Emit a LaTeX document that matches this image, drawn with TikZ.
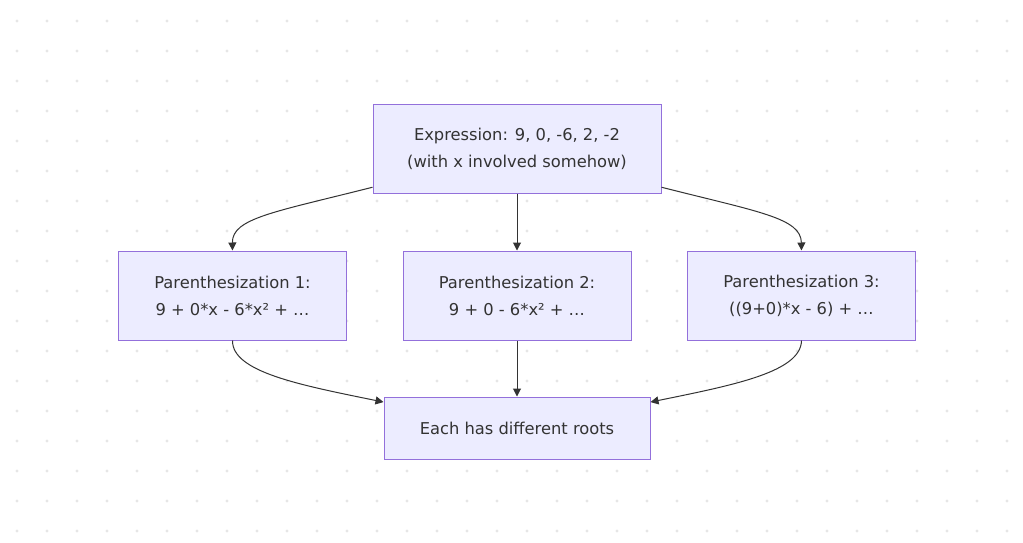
\documentclass[tikz,border=0pt]{standalone}
\usepackage{fontspec}
\setmainfont{DejaVu Sans}
\usepackage{tikz}
\usetikzlibrary{arrows.meta}

\definecolor{boxfill}{HTML}{ECECFF}
\definecolor{boxline}{HTML}{9370DB}
\definecolor{ink}{HTML}{333333}
\definecolor{griddot}{HTML}{E6E6E6}

\begin{document}
\begin{tikzpicture}[x=1pt, y=-1pt,
		node_style/.style={rectangle,draw=boxline,fill=boxfill,line width=1pt,
			text=ink,font=\fontsize{16.3}{27}\selectfont,align=center,inner sep=0pt},
		edge_style/.style={draw=ink,line width=1pt,-{Triangle[length=8pt,width=8pt]}}]
		
		% background
		\useasboundingbox (0,0) rectangle (1023,542);
		\fill[white] (0,0) rectangle (1023,542);
		\foreach \i in {0,...,33}
			\foreach \j in {0,...,17}
				\fill[griddot] (17+30*\i,21+30*\j) circle (1.6);
		
		\node[node_style,minimum width=288pt,minimum height=89pt] (expr) at (517,148.5)
			{Expression: 9, 0, -6, 2, -2\\(with x involved somehow)};
		\node[node_style,minimum width=228pt,minimum height=89pt] (p1) at (232.5,295.5)
			{Parenthesization 1:\\9 + 0*x - 6*x² + …};
		\node[node_style,minimum width=228pt,minimum height=89pt] (p2) at (517,295.5)
			{Parenthesization 2:\\9 + 0 - 6*x² + …};
		\node[node_style,minimum width=228pt,minimum height=89pt] (p3) at (801.5,295.5)
			{Parenthesization 3:\\((9+0)*x - 6) + …};
		\node[node_style,minimum width=266pt,minimum height=62pt] (roots) at (517,428)
			{Each has different roots};
		
		\draw[edge_style] (expr.195) .. controls (275,212) and (232,218) .. (p1.north);
		\draw[edge_style] (expr) -- (p2);
		\draw[edge_style] (expr.345) .. controls (759,212) and (801,218) .. (p3.north);
		\draw[edge_style] (p1.south) .. controls (232,372) and (300,385) .. (roots.169);
		\draw[edge_style] (p2) -- (roots);
		\draw[edge_style] (p3.south) .. controls (801,372) and (734,385) .. (roots.11);
		
\end{tikzpicture}
\end{document}
